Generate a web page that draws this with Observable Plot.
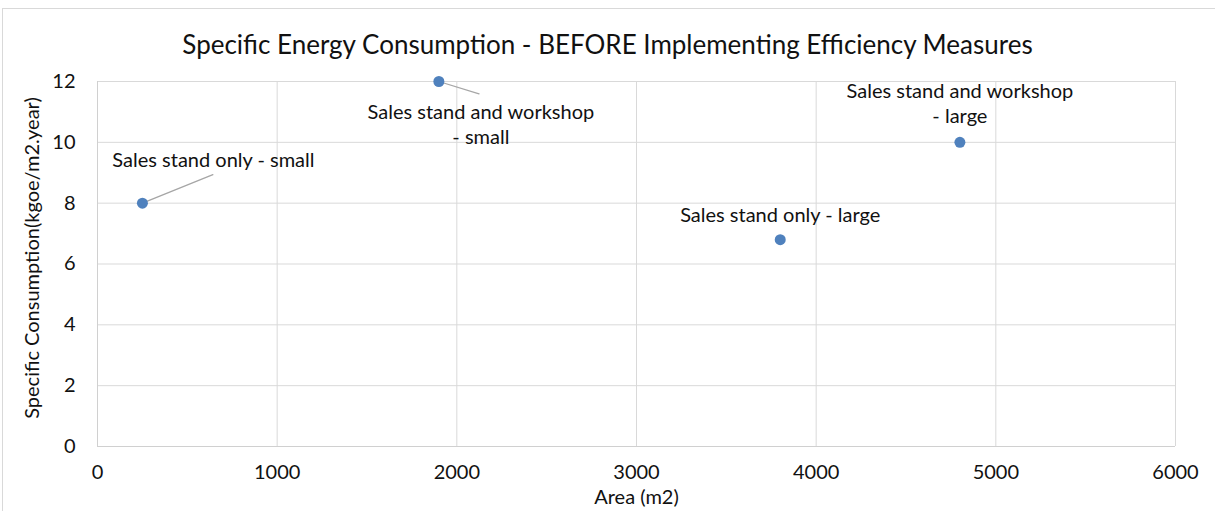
<!DOCTYPE html>
<html>
<head>
<meta charset="utf-8">
<script src="https://cdn.jsdelivr.net/npm/d3@7"></script>
<script src="https://cdn.jsdelivr.net/npm/@observablehq/plot@0.6"></script>
<style>
  html, body { margin: 0; padding: 0; background: #fff; }
  #wrap { position: relative; width: 1215px; height: 511px; overflow: hidden; font-family: Lato, "Open Sans", sans-serif; }
  #frame { position: absolute; left: 2px; top: 8px; width: 1220px; height: 520px; border: 1px solid #d9d9d9; box-sizing: border-box; }
  #title { position: absolute; left: 0; width: 1215px; top: 28px; text-align: center; font-size: 26px; line-height: 32px; color: #111; }
  #chart { position: absolute; left: 0; top: 0; }
</style>
</head>
<body>
<div id="wrap">
  <div id="frame"></div>
  <div id="chart"></div>
  <div id="title">Specific Energy Consumption - BEFORE Implementing Efficiency Measures</div>
</div>
<script>
const names = ["Sales stand only - small", "Sales stand and workshop\n- small", "Sales stand only - large", "Sales stand and workshop\n- large"];
const areas = [250, 1900, 3800, 4800];
const consumption = [8, 12, 6.8, 10];
const xTicks = [0, 1000, 2000, 3000, 4000, 5000, 6000];
const yTicks = [0, 2, 4, 6, 8, 10, 12];

// label placement (pixel offsets from the point), styling only
const labelDx = [71, 42, 0, 0];
const labelDy = [-44, 42, -26, -40];
const leaderLen = [76, 42, 0, 0];
const leaderAngle = [68, 107, 0, 0];

const data = names.map((n, i) => ({
  name: n, area: areas[i], value: consumption[i]
}));

const lineShape = { draw(context, l) { context.moveTo(0, 0); context.lineTo(0, -l); } };
const FONT = "Lato, 'Open Sans', sans-serif";

const labelMarks = data.map((d, i) =>
  Plot.text([d], {
    x: "area", y: "value", text: "name",
    dx: labelDx[i], dy: labelDy[i],
    fontSize: 20, fill: "#111", lineHeight: 1.25, textAnchor: "middle", lineAnchor: "middle"
  })
);

const leaderMarks = data.map((d, i) => leaderLen[i] > 0
  ? Plot.vector([d], {
      x: "area", y: "value", length: leaderLen[i], rotate: leaderAngle[i], anchor: "start",
      shape: lineShape, stroke: "#a6a6a6", strokeWidth: 1.3
    })
  : null).filter(Boolean);

const chart = Plot.plot({
  width: 1215,
  height: 511,
  marginLeft: 97,
  marginRight: 40,
  marginTop: 81,
  marginBottom: 65,
  style: { fontFamily: FONT, fontSize: "20px", color: "#111", background: "transparent", overflow: "visible" },
  x: { domain: [0, 6000], label: null },
  y: { domain: [0, 12], label: null },
  marks: [
    Plot.gridX(xTicks, { stroke: "#d9d9d9", strokeOpacity: 1, strokeWidth: 1 }),
    Plot.gridY(yTicks, { stroke: "#d9d9d9", strokeOpacity: 1, strokeWidth: 1 }),
    Plot.ruleY([0], { stroke: "#d0d0d0" }),
    Plot.ruleX([0], { stroke: "#d0d0d0" }),
    Plot.axisX(xTicks, { tickSize: 0, tickPadding: 18, fontSize: 20, fill: "#111", tickFormat: d3.format("d"), label: null }),
    Plot.axisY(yTicks, { tickSize: 0, tickPadding: 22, fontSize: 20, fill: "#111", anchor: "left", tickFormat: d3.format("d"), label: null }),
    Plot.text(["Area (m2)"], { frameAnchor: "bottom", dy: 57, fontSize: 20, fill: "#111" }),
    Plot.text(["Specific Consumption(kgoe/m2.year)"], { frameAnchor: "left", textAnchor: "middle", dx: -65, dy: -6, rotate: -90, fontSize: 20, fill: "#111" }),
    ...leaderMarks,
    Plot.dot(data, { x: "area", y: "value", r: 5.5, fill: "#4f81bd", stroke: "none" }),
    ...labelMarks
  ]
});

document.getElementById("chart").appendChild(chart);
</script>
</body>
</html>
